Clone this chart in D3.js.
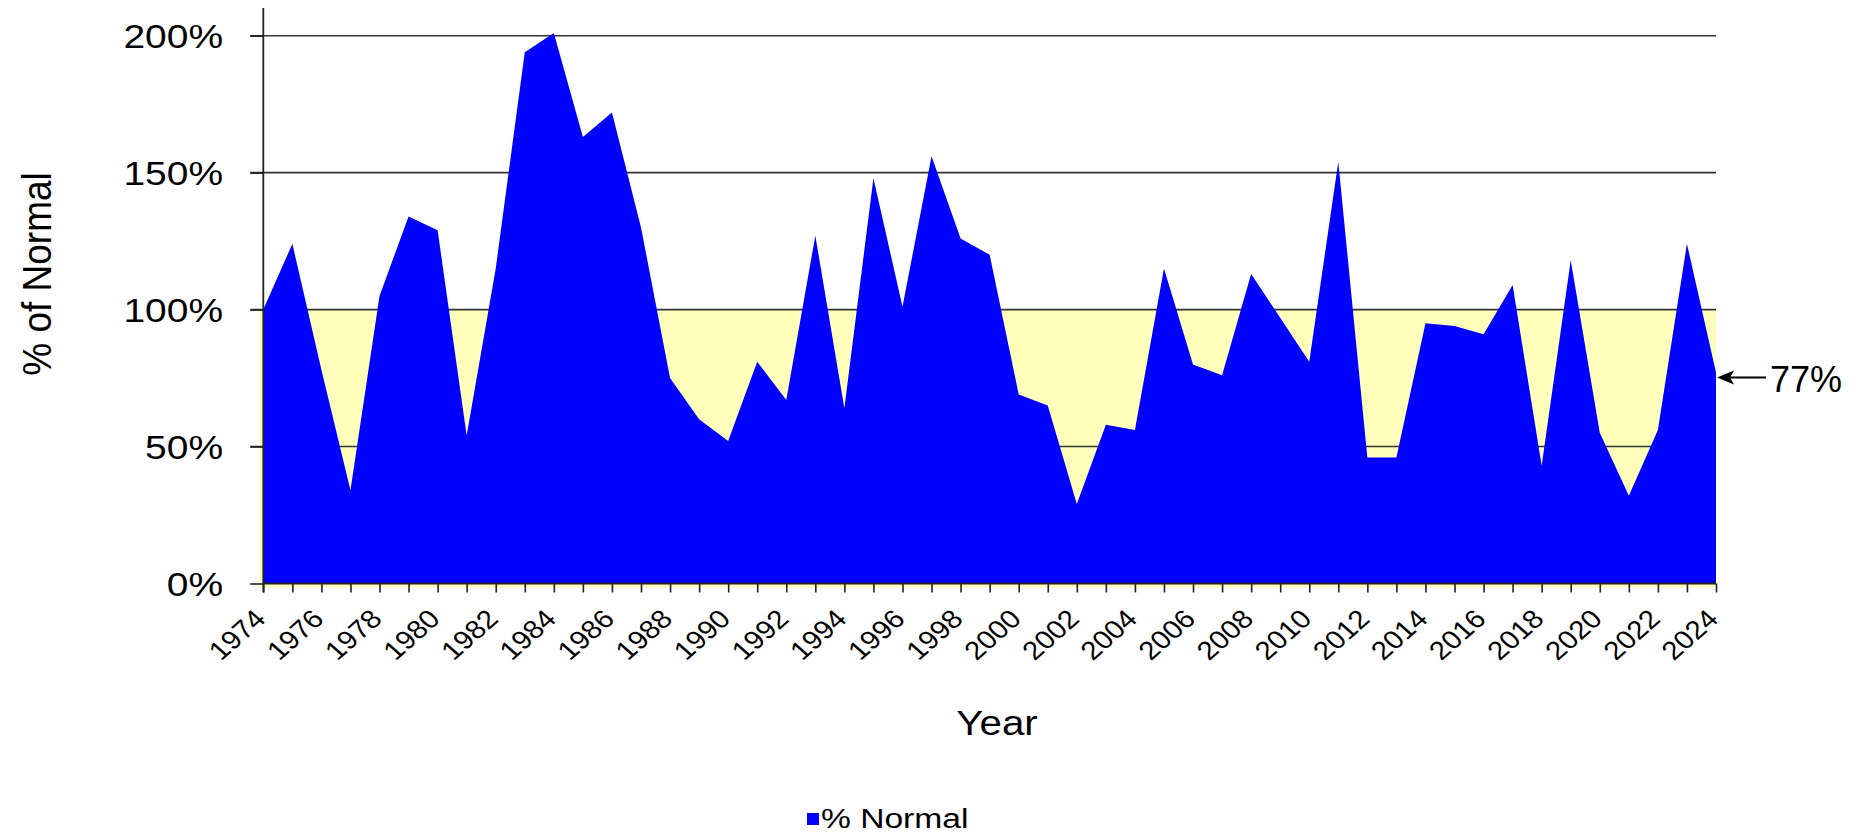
<!DOCTYPE html>
<html>
<head>
<meta charset="utf-8">
<script src="https://cdn.jsdelivr.net/npm/d3@7/dist/d3.min.js"></script>
<style>
  html, body { margin: 0; padding: 0; background: #fff; }
  svg { display: block; }
  text { font-family: "Liberation Sans", Arial, Helvetica, sans-serif; fill: #000; }
</style>
</head>
<body>
<svg id="chart" width="1865" height="834"></svg>
<script>
// ---- data ----
const years = [1974,1975,1976,1977,1978,1979,1980,1981,1982,1983,1984,1985,1986,1987,1988,1989,1990,1991,1992,1993,1994,1995,1996,1997,1998,1999,2000,2001,2002,2003,2004,2005,2006,2007,2008,2009,2010,2011,2012,2013,2014,2015,2016,2017,2018,2019,2020,2021,2022,2023,2024];
const pctNormal = [100,124,78,34,105,134,129,54,115,194,201,163,172,130,75,60,52,81,67,127,64,148,101,156,126,120,69,65,29,58,56,115,80,76,113,97,81,154,46,46,95,94,91,109,43,118,55,32,56,124,77];
const yTicks = [0, 50, 100, 150, 200];
const yTickLabels = ["0%", "50%", "100%", "150%", "200%"];
const xLabelYears = d3.range(1974, 2025, 2);
const seriesName = "% Normal";
const yTitle = "% of Normal";
const xTitle = "Year";
const normalLevel = 100;

// ---- layout ----
const svg = d3.select("#chart");
const pLeft = 263.3, pRight = 1716, pTop = 35.7, pBottom = 583.5;
const x = d3.scaleLinear().domain([1974, 2024]).range([pLeft, pRight]);
const y = d3.scaleLinear().domain([0, 200]).range([pBottom, pTop]);
const sx = 1.18; // horizontal text stretch of original

// yellow "below normal" band
svg.append("rect")
  .attr("x", pLeft - 4).attr("y", y(normalLevel))
  .attr("width", pRight - pLeft + 4).attr("height", pBottom - y(normalLevel) + 4)
  .attr("fill", "#FFFFBB");

// gridlines
svg.append("g").selectAll("line").data(yTicks.filter(d => d > 0)).join("line")
  .attr("x1", pLeft - 13).attr("x2", pRight)
  .attr("y1", d => y(d)).attr("y2", d => y(d))
  .attr("stroke", "#333").attr("stroke-width", 1.6);

// area
const data = years.map((yr, i) => ({ yr, v: pctNormal[i] }));
svg.append("path").datum(data)
  .attr("fill", "#0000FF")
  .attr("d", d3.area().x(d => x(d.yr)).y0(y(0)).y1(d => y(d.v)));

// y axis
const yAxis = d3.axisLeft(y).tickValues(yTicks).tickSize(13).tickFormat("");
const gy = svg.append("g").attr("transform", `translate(${pLeft},0)`).call(yAxis);
gy.select(".domain").remove();
gy.selectAll(".tick line").attr("stroke", "#222").attr("stroke-width", 1.6);
svg.append("line").attr("x1", pLeft).attr("x2", pLeft).attr("y1", 8).attr("y2", pBottom + 9)
  .attr("stroke", "#222").attr("stroke-width", 1.8);

// y tick labels
svg.append("g").selectAll("g").data(yTicks).join("g")
  .attr("transform", d => `translate(223,${y(d) + 12}) scale(${sx},1)`)
  .append("text").attr("text-anchor", "end").attr("font-size", 33)
  .text((d, i) => yTickLabels[i]);

// x axis
const xAxis = d3.axisBottom(x).tickValues(years).tickSize(9).tickFormat("");
const gx = svg.append("g").attr("transform", `translate(0,${pBottom})`).call(xAxis);
gx.select(".domain").attr("stroke", "#222").attr("stroke-width", 1.8).attr("d", `M${pLeft},0H${pRight}`);
gx.selectAll(".tick line").attr("stroke", "#222").attr("stroke-width", 1.6);

// x tick labels
svg.append("g").selectAll("g").data(xLabelYears).join("g")
  .attr("transform", d => `translate(${x(d) + 4},${pBottom + 37}) scale(1.13,1) rotate(-45)`)
  .append("text").attr("text-anchor", "end").attr("font-size", 26)
  .text(d => d);

// axis titles
svg.append("g").attr("transform", `translate(51,274) scale(1.1,1) rotate(-90)`)
  .append("text").attr("text-anchor", "middle").attr("font-size", 37).text(yTitle);
svg.append("g").attr("transform", `translate(997,735) scale(1.12,1)`)
  .append("text").attr("text-anchor", "middle").attr("font-size", 36).text(xTitle);

// legend
svg.append("rect").attr("x", 807).attr("y", 813).attr("width", 12).attr("height", 12).attr("fill", "#0000FF");
svg.append("g").attr("transform", `translate(821,828) scale(1.2,1)`)
  .append("text").attr("font-size", 28).text(seriesName);

// last value annotation
const lastV = pctNormal[pctNormal.length - 1];
const ay = y(lastV) + 5;
svg.append("line").attr("x1", pRight + 12).attr("x2", pRight + 50).attr("y1", ay).attr("y2", ay)
  .attr("stroke", "#000").attr("stroke-width", 2);
svg.append("path")
  .attr("d", `M${pRight + 1},${ay} L${pRight + 18},${ay - 7} L${pRight + 14},${ay} L${pRight + 18},${ay + 7} Z`)
  .attr("fill", "#000");
svg.append("text").attr("x", pRight + 54).attr("y", ay + 14).attr("font-size", 36)
  .text(lastV + "%");
</script>
</body>
</html>
